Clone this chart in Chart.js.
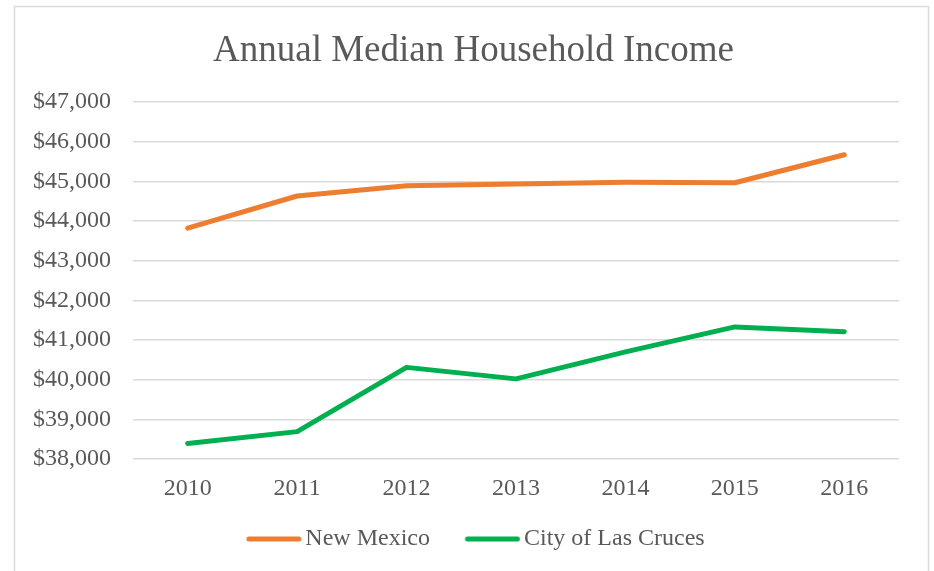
<!DOCTYPE html>
<html>
<head>
<meta charset="utf-8">
<script src="https://cdn.jsdelivr.net/npm/chart.js@4/dist/chart.umd.min.js"></script>
<style>
  html, body { margin: 0; padding: 0; background: #fff; }
  #wrap { position: relative; width: 934px; height: 571px; }
</style>
</head>
<body>
<div id="wrap"><canvas id="incomeChart" width="934" height="571"></canvas></div>
<script>
// data
const years = ['2010', '2011', '2012', '2013', '2014', '2015', '2016'];
const newMexico = [43820, 44630, 44890, 44930, 44975, 44965, 45670];
const lasCruces = [38390, 38690, 40310, 40020, 40700, 41330, 41210];
const yMin = 38000;
const yMax = 47000;
const yStep = 1000;

const serif = "'Liberation Serif', 'Times New Roman', serif";
const textGrey = '#595959';
const orange = '#ED7D31';
const green = '#00B050';

// legend swatch: a short thick line that runs nearly up to the label text
function legendLine(color) {
    const c = document.createElement('canvas');
    c.width = 64;
    c.height = 8;
    const g = c.getContext('2d');
    g.strokeStyle = color;
    g.lineWidth = 5;
    g.lineCap = 'round';
    g.beginPath();
    g.moveTo(11, 4);
    g.lineTo(61, 4);
    g.stroke();
    return c;
}

// light frame around the chart, like the office chart border
const framePlugin = {
    id: 'frame',
    afterLayout(chart) {
        // title and legend sit centred on the frame, not on the axis box
        if (chart.titleBlock) {
            chart.titleBlock.left = 48;
        }
        if (chart.legend) {
            const h = chart.legend.height;
            chart.legend.left = 52;
            chart.legend.top = 492;
            chart.legend.bottom = 492 + h;
        }
    },
    afterDraw(chart) {
        const ctx = chart.ctx;
        ctx.save();
        ctx.strokeStyle = '#d9d9d9';
        ctx.lineWidth = 1.5;
        ctx.beginPath();
        ctx.moveTo(14.5, 600);
        ctx.lineTo(14.5, 6.5);
        ctx.lineTo(928.5, 6.5);
        ctx.lineTo(928.5, 600);
        ctx.stroke();
        ctx.restore();
    }
};

const ctx = document.getElementById('incomeChart').getContext('2d');
new Chart(ctx, {
    type: 'line',
    data: {
        labels: years,
        datasets: [{
            label: 'New Mexico',
            data: newMexico,
            borderColor: orange,
            backgroundColor: orange,
            borderWidth: 5,
            borderCapStyle: 'round',
            borderJoinStyle: 'round',
            pointRadius: 0,
            pointStyle: legendLine(orange),
            tension: 0
        }, {
            label: 'City of Las Cruces',
            data: lasCruces,
            borderColor: green,
            backgroundColor: green,
            borderWidth: 5,
            borderCapStyle: 'round',
            borderJoinStyle: 'round',
            pointRadius: 0,
            pointStyle: legendLine(green),
            tension: 0
        }]
    },
    options: {
        responsive: false,
        animation: false,
        layout: {
            padding: { left: 0, right: 35, top: 0, bottom: -1 }
        },
        plugins: {
            title: {
                display: true,
                text: 'Annual Median Household Income',
                color: textGrey,
                font: { family: serif, size: 37, weight: 'normal' },
                padding: { top: 29, bottom: 28.6 }
            },
            legend: {
                position: 'bottom',
                labels: {
                    color: textGrey,
                    font: { family: serif, size: 24 },
                    usePointStyle: true,
                    pointStyleWidth: 47,
                    padding: 35
                }
            },
            tooltip: { enabled: false }
        },
        scales: {
            x: {
                offset: true,
                grid: { display: false, drawTicks: false },
                border: { display: false },
                ticks: {
                    color: textGrey,
                    font: { family: serif, size: 24 },
                    padding: 15,
                    maxRotation: 0
                },
                afterFit(scale) { scale.height = 44; }
            },
            y: {
                min: yMin,
                max: yMax,
                grid: { color: '#d9d9d9', lineWidth: 1.5, drawTicks: false },
                border: { display: false },
                ticks: {
                    stepSize: yStep,
                    color: textGrey,
                    font: { family: serif, size: 24 },
                    padding: 22,
                    callback: v => '$' + v.toLocaleString('en-US')
                },
                afterFit(scale) { scale.width = 133; }
            }
        }
    },
    plugins: [framePlugin]
});
</script>
</body>
</html>
